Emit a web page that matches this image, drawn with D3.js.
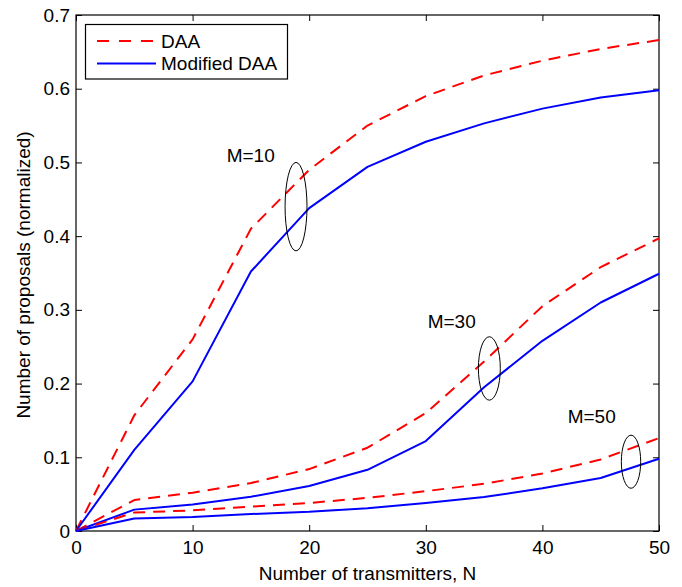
<!DOCTYPE html>
<html>
<head>
<meta charset="utf-8">
<script src="https://cdn.jsdelivr.net/npm/d3@7/dist/d3.min.js"></script>
<style>
  html, body { margin: 0; padding: 0; background: #fff; }
  svg { display: block; font-family: "Liberation Sans", Arial, Helvetica, sans-serif; }
</style>
</head>
<body>
<svg id="chart" width="682" height="587"></svg>
<script>
// ---- data ----
const transmitters = [0, 5, 10, 15, 20, 25, 30, 35, 40, 45, 50];
const daaM10 = [0, 0.157, 0.26, 0.41, 0.49, 0.55, 0.59, 0.618, 0.638, 0.654, 0.666];
const modM10 = [0, 0.11, 0.203, 0.352, 0.438, 0.494, 0.528, 0.553, 0.573, 0.588, 0.598];
const daaM30 = [0, 0.042, 0.052, 0.065, 0.084, 0.113, 0.16, 0.23, 0.305, 0.358, 0.397];
const modM30 = [0, 0.029, 0.036, 0.0465, 0.061, 0.083, 0.122, 0.195, 0.258, 0.31, 0.349];
const daaM50 = [0, 0.025, 0.028, 0.033, 0.038, 0.045, 0.054, 0.064, 0.078, 0.097, 0.126];
const modM50 = [0, 0.017, 0.019, 0.023, 0.026, 0.031, 0.038, 0.046, 0.058, 0.072, 0.098];
const xTicks = [0, 10, 20, 30, 40, 50];
const yTicks = [0, 0.1, 0.2, 0.3, 0.4, 0.5, 0.6, 0.7];
const legendLabels = ["DAA", "Modified DAA"];
const groupLabels = ["M=10", "M=30", "M=50"];
// annotation anchors in data units: label position, ellipse centre and radii
const labelN = [12.92, 30.16, 42.17];
const labelV = [0.501, 0.276, 0.146];
const ellN = [18.87, 35.45, 47.6];
const ellV = [0.44, 0.2205, 0.094];
const ellRN = [0.94, 0.94, 0.83];
const ellRV = [0.06, 0.043, 0.036];

// ---- layout ----
const W = 682, H = 587;
const m = { left: 76, right: 23, top: 15, bottom: 56 };
const svg = d3.select("#chart");
const x = d3.scaleLinear().domain([0, 50]).range([m.left, W - m.right]);
const y = d3.scaleLinear().domain([0, 0.7]).range([H - m.bottom, m.top]);
const FS = 19;

// frame
svg.append("rect")
  .attr("x", x(0)).attr("y", y(0.7))
  .attr("width", x(50) - x(0)).attr("height", y(0) - y(0.7))
  .attr("fill", "none").attr("stroke", "#000").attr("stroke-width", 1.2);

// axes (ticks inward)
const tickLen = 6;
const fmtY = d => d === 0 ? "0" : d3.format(".1f")(d);
const axB = svg.append("g").attr("transform", `translate(0,${y(0)})`)
  .call(d3.axisBottom(x).tickValues(xTicks).tickSizeInner(-tickLen).tickSizeOuter(0).tickPadding(10));
const axT = svg.append("g").attr("transform", `translate(0,${y(0.7)})`)
  .call(d3.axisTop(x).tickValues(xTicks).tickSizeInner(-tickLen).tickSizeOuter(0).tickFormat(""));
const axL = svg.append("g").attr("transform", `translate(${x(0)},0)`)
  .call(d3.axisLeft(y).tickValues(yTicks).tickSizeInner(-tickLen).tickSizeOuter(0).tickPadding(6).tickFormat(fmtY));
const axR = svg.append("g").attr("transform", `translate(${x(50)},0)`)
  .call(d3.axisRight(y).tickValues(yTicks).tickSizeInner(-tickLen).tickSizeOuter(0).tickFormat(""));
[axB, axT, axL, axR].forEach(g => {
  g.select(".domain").remove();
  g.selectAll(".tick line").attr("stroke", "#000").attr("stroke-width", 1);
  g.selectAll("text").attr("font-size", FS).attr("fill", "#000")
    .attr("font-family", "'Liberation Sans', Arial, Helvetica, sans-serif");
});
axB.selectAll("text").attr("dy", "0.71em");

// axis titles
svg.append("text").attr("x", (x(0) + x(50)) / 2).attr("y", 580)
  .attr("text-anchor", "middle").attr("font-size", FS).text("Number of transmitters, N");
svg.append("text").attr("transform", `translate(30,${(y(0) + y(0.7)) / 2 + 2}) rotate(-90)`)
  .attr("text-anchor", "middle").attr("font-size", FS).text("Number of proposals (normalized)");

// lines
const line = d3.line().x((d, i) => x(transmitters[i])).y(d => y(d));
const series = [
  { v: daaM10, dash: true }, { v: modM10, dash: false },
  { v: daaM30, dash: true }, { v: modM30, dash: false },
  { v: daaM50, dash: true }, { v: modM50, dash: false }
];
const plot = svg.append("g");
series.forEach(s => {
  plot.append("path").attr("d", line(s.v)).attr("fill", "none")
    .attr("stroke", s.dash ? "#ff0000" : "#0000ff").attr("stroke-width", 2)
    .attr("stroke-dasharray", s.dash ? "12,8" : null)
    .attr("stroke-linejoin", "round");
});

// annotations
groupLabels.forEach((t, i) => {
  svg.append("text").attr("x", x(labelN[i])).attr("y", y(labelV[i]))
    .attr("font-size", FS).text(t);
  svg.append("ellipse").attr("cx", x(ellN[i])).attr("cy", y(ellV[i]))
    .attr("rx", x(ellRN[i]) - x(0)).attr("ry", y(0) - y(ellRV[i]))
    .attr("fill", "none").attr("stroke", "#000").attr("stroke-width", 1);
});

// legend
const lg = svg.append("g");
lg.append("rect").attr("x", 85.5).attr("y", 24.5).attr("width", 202).attr("height", 54.5)
  .attr("fill", "#fff").attr("stroke", "#000").attr("stroke-width", 1.2);
legendLabels.forEach((t, i) => {
  const yy = 41 + i * 22.5;
  lg.append("line").attr("x1", 97).attr("x2", 156).attr("y1", yy).attr("y2", yy)
    .attr("stroke", i === 0 ? "#ff0000" : "#0000ff").attr("stroke-width", 2)
    .attr("stroke-dasharray", i === 0 ? "12,10" : null);
  lg.append("text").attr("x", 161).attr("y", yy).attr("dy", "0.36em")
    .attr("font-size", FS).text(t);
});
</script>
</body>
</html>
